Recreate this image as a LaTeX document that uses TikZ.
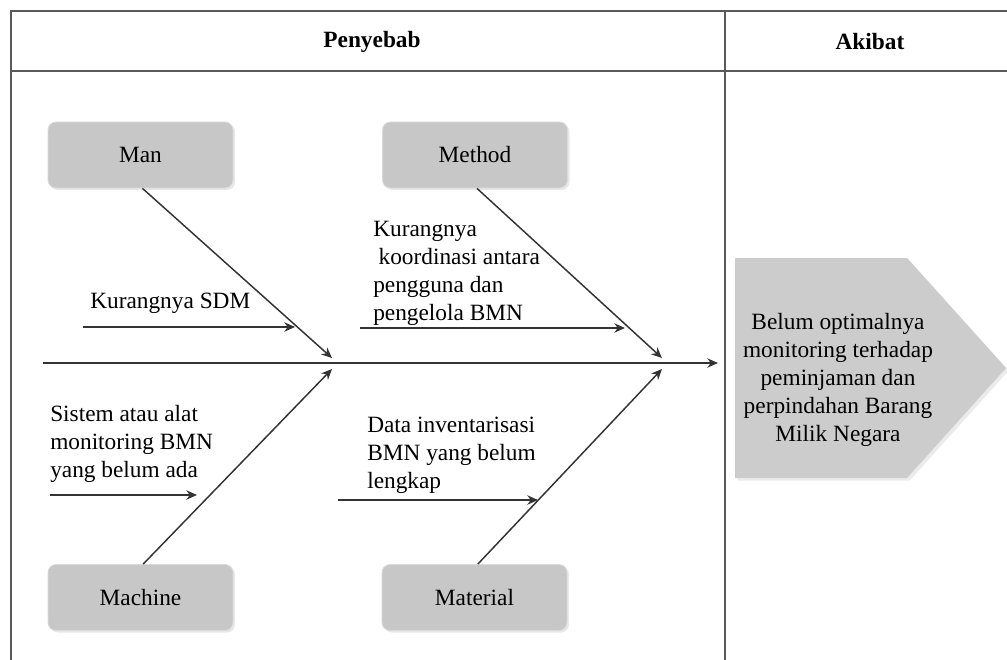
\documentclass[tikz,border=0pt]{standalone}
\usepackage{fontspec}
\setmainfont{Liberation Serif}
\usetikzlibrary{arrows.meta,shadows}
\begin{document}
\begin{tikzpicture}[x=0.75pt,y=-0.75pt,
  every node/.style={font=\fontsize{17.5}{21}\selectfont, inner sep=0pt},
  frameline/.style={draw=black!65, line width=1.8pt},
  catbox/.style={rectangle, rounded corners=6pt, fill=black!22, draw=black!14, line width=0.6pt,
    minimum width=138.75pt, minimum height=49.5pt,
    drop shadow={opacity=0.18, shadow xshift=1.5pt, shadow yshift=-1.5pt}},
  bone/.style={draw=black!80, line width=1.1pt, -{Stealth[length=8pt,width=7pt]}},
  subtext/.style={anchor=base west, align=left},
  hdr/.style={font=\fontsize{17.5}{21}\selectfont\bfseries}
]
\useasboundingbox (0,0) rectangle (1007,660);
% frame
\draw[frameline] (11,660) -- (11,11) -- (1010,11);
\draw[frameline] (11,71) -- (1010,71);
\draw[frameline] (725,11) -- (725,660);
\node[hdr] (penyebab) at (372,42) {Penyebab};
\node[hdr] (akibat) at (870,42) {Akibat};

% category boxes
\node[catbox] (man) at (140.5,155) {Man};
\node[catbox] (method) at (475,155) {Method};
\node[catbox] (machine) at (140.5,597.5) {Machine};
\node[catbox] (material) at (474.5,597.5) {Material};

% spine
\coordinate (spineL) at (43,363);
\coordinate (spineR) at (718,363);
\draw[bone] (spineL) -- (spineR);

% bones
\coordinate (m1) at (332,358);
\coordinate (m2) at (662,358);
\coordinate (m3) at (332,369);
\coordinate (m4) at (662,369);
\draw[bone] ([xshift=1.5pt]man.south) -- (m1);
\draw[bone] ([xshift=1.5pt]method.south) -- (m2);
\draw[bone] ([xshift=2pt]machine.north) -- (m3);
\draw[bone] ([xshift=2.5pt]material.north) -- (m4);

% sub causes (anchor = baseline of last line)
\node[subtext] (t1) at (90,308) {Kurangnya SDM};
\coordinate (a1s) at (83,327);
\coordinate (a1e) at (295,327);
\draw[bone] (a1s) -- (a1e);

\node[subtext] (t2) at (373,320) {Kurangnya\\\hspace{4pt}koordinasi antara\\pengguna dan\\pengelola BMN};
\coordinate (a2s) at (360,328);
\coordinate (a2e) at (625,328);
\draw[bone] (a2s) -- (a2e);

\node[subtext] (t3) at (50,477) {Sistem atau alat\\monitoring BMN\\yang belum ada};
\coordinate (a3s) at (50,495);
\coordinate (a3e) at (197,495);
\draw[bone] (a3s) -- (a3e);

\node[subtext] (t4) at (367,488) {Data inventarisasi\\BMN yang belum\\lengkap};
\coordinate (a4s) at (338,500);
\coordinate (a4e) at (538,500);
\draw[bone] (a4s) -- (a4e);

% effect
\fill[black!8, xshift=2pt, yshift=-2pt] (735,258) -- (907,258) -- (1006,368) -- (907,478) -- (735,478) -- cycle;
\fill[black!20] (735,258) -- (907,258) -- (1006,368) -- (907,478) -- (735,478) -- cycle;
\node[align=center] (effect) at (838,380) {Belum optimalnya\\monitoring terhadap\\peminjaman dan\\perpindahan Barang\\Milik Negara};
\end{tikzpicture}
\end{document}
